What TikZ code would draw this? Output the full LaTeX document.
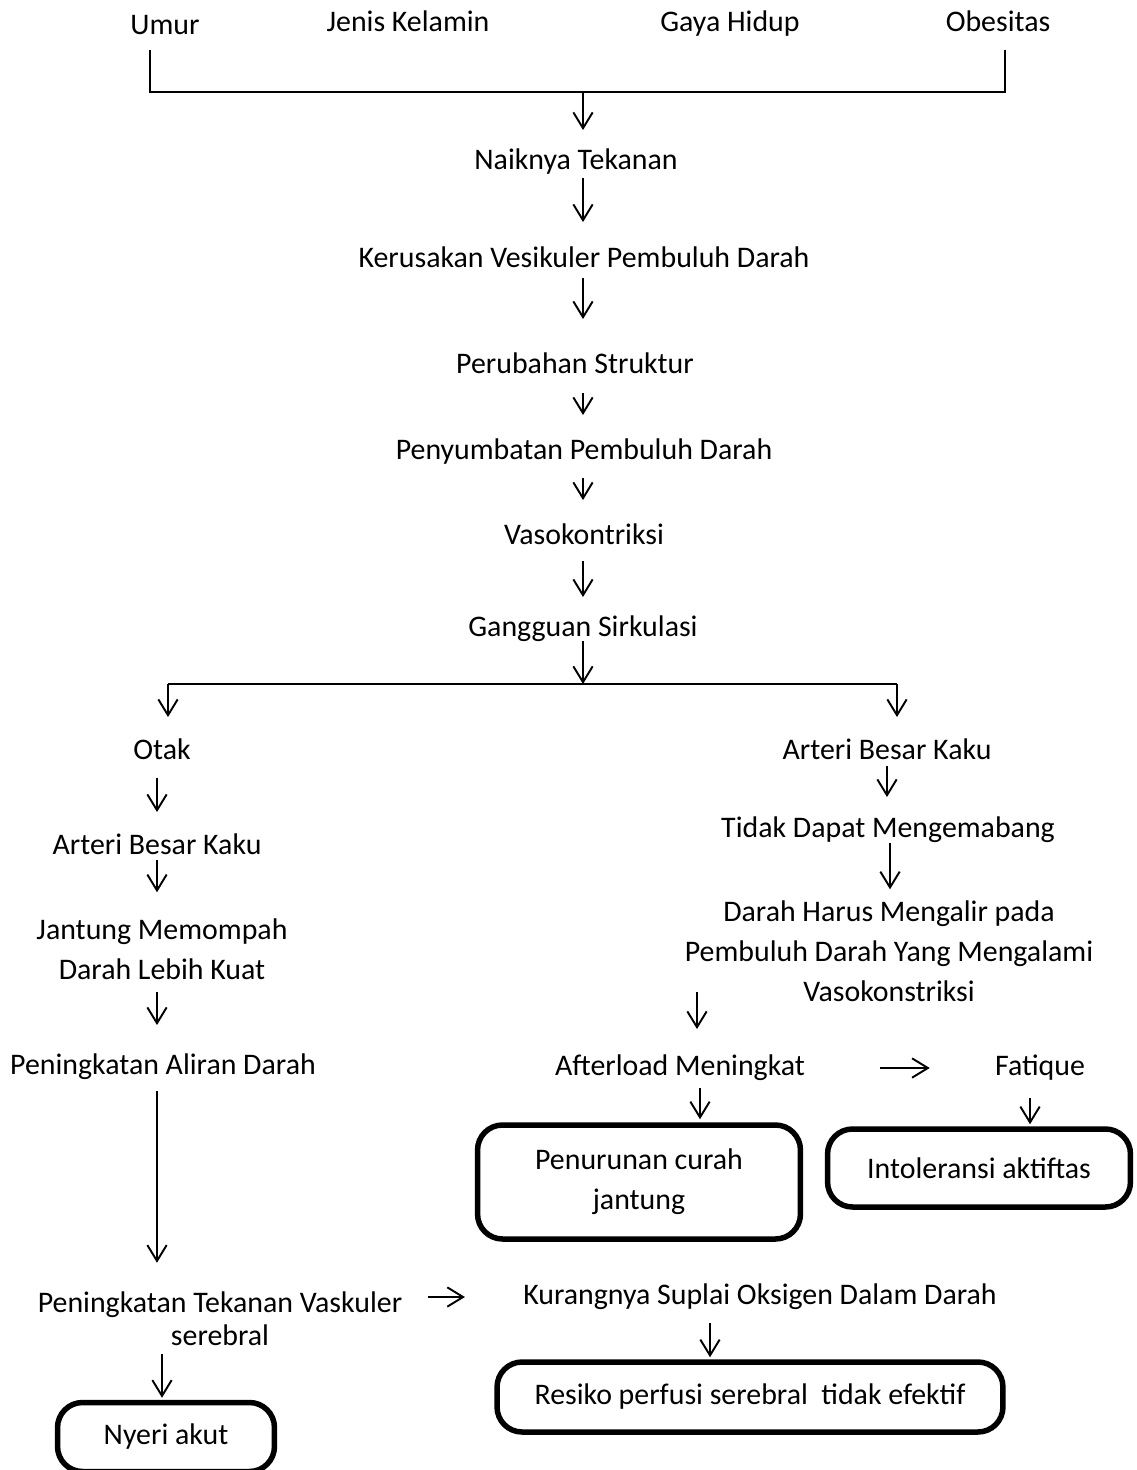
\documentclass[tikz,border=0pt]{standalone}
\usepackage{fontspec}
\setmainfont{Carlito}
\usepackage{tikz}
\usetikzlibrary{arrows.meta}

\begin{document}
\begin{tikzpicture}[x=0.02cm,y=-0.02cm,
  lbl/.style={inner sep=0pt,align=center,font=\fontsize{17pt}{22.7pt}\selectfont},
  one/.style={lbl,text height=12pt,text depth=3.5pt},
  res/.style={lbl,draw,line width=1.1mm,rounded corners=5mm},
  ln/.style={line width=1.1pt},
  arr/.style={ln,-{Straight Barb[length=9pt,width=11pt]}}]
\useasboundingbox (0,0) rectangle (1136,1470);

\node[one] (umur) at (165,27) {Umur};
\node[one] (jenis) at (408,24) {Jenis Kelamin};
\node[one] (gaya) at (730,24) {Gaya Hidup};
\node[one] (obes) at (998,24) {Obesitas};
\node[one] (naik) at (576,162) {Naiknya Tekanan};
\node[one] (kerus) at (584,260) {Kerusakan Vesikuler Pembuluh Darah};
\node[one] (ubah) at (575,366) {Perubahan Struktur};
\node[one] (sumbat) at (584,452) {Penyumbatan Pembuluh Darah};
\node[one] (vaso) at (584,537) {Vasokontriksi};
\node[one] (gang) at (583,629) {Gangguan Sirkulasi};

\node[one] (otak) at (162,752) {Otak};
\node[one] (arteriL) at (157,847) {Arteri Besar Kaku};
\node[lbl] (jantung) at (162,949) {Jantung Memompah\\Darah Lebih Kuat};
\node[one] (aliran) at (163,1067) {Peningkatan Aliran Darah};
\node[lbl,font=\fontsize{17pt}{18.7pt}\selectfont] (tekanan) at (220,1319) {Peningkatan Tekanan Vaskuler\\serebral};
\node[res,minimum width=43.4mm,minimum height=13.8mm] (nyeri) at (166,1437) {Nyeri akut};

\node[one] (arteriR) at (887,752) {Arteri Besar Kaku};
\node[one] (tidak) at (888,830) {Tidak Dapat Mengemabang};
\node[lbl] (darah) at (889,951) {Darah Harus Mengalir pada\\Pembuluh Darah Yang Mengalami\\Vasokonstriksi};
\node[one] (after) at (680,1068) {Afterload Meningkat};
\node[one] (fatique) at (1040,1068) {Fatique};
\node[res,minimum width=64.6mm,minimum height=22.8mm] (turun) at (639,1182) {Penurunan curah\\jantung};
\node[res,minimum width=60.6mm,minimum height=15.6mm] (intol) at (979,1168) {Intoleransi aktiftas};
\node[one] (kurang) at (760,1297) {Kurangnya Suplai Oksigen Dalam Darah};
\node[res,minimum width=101.2mm,minimum height=14mm] (resiko) at (750,1397) {Resiko perfusi serebral\ \ tidak efektif};

\coordinate (bl) at (150,92);
\coordinate (br) at (1005,92);
\coordinate (join) at (583,92);
\coordinate (fork) at (583,684);
\coordinate (forkL) at (168,684);
\coordinate (forkR) at (897,684);
\coordinate (cM) at (583,0);
\coordinate (cL) at (157,0);
\coordinate (cN) at (162,0);
\coordinate (cR) at (887,0);
\coordinate (cD) at (890,0);
\coordinate (cA) at (697,0);
\coordinate (cP) at (700,0);
\coordinate (cF) at (1030,0);
\coordinate (cK) at (710,0);

\draw[ln,shorten <=1.8mm,shorten >=2.4mm] (umur.south -| bl) -- (bl) -- (br) -- (obes.south -| br);
\draw[arr,shorten >=3.6mm] (join) -- (naik.north -| cM);
\draw[arr,shorten <=0.4mm,shorten >=4.8mm] (naik.south -| cM) -- (kerus.north -| cM);
\draw[arr,shorten <=0.8mm,shorten >=6.6mm] (kerus.south -| cM) -- (ubah.north -| cM);
\draw[arr,shorten <=2.6mm,shorten >=4.6mm] (ubah.south -| cM) -- (sumbat.north -| cM);
\draw[arr,shorten <=2.4mm,shorten >=4.6mm] (sumbat.south -| cM) -- (vaso.north -| cM);
\draw[arr,shorten <=2mm,shorten >=3.6mm] (vaso.south -| cM) -- (gang.north -| cM);
\draw[arr,shorten <=-0.4mm] (gang.south -| cM) -- (fork);
\draw[ln] (forkL) -- (forkR);
\draw[arr,shorten >=4.2mm] (forkL) -- (otak.north -| forkL);
\draw[arr,shorten >=4.2mm] (forkR) -- (arteriR.north -| forkR);

\draw[arr,shorten <=2.4mm,shorten >=4.2mm] (otak.south -| cL) -- (arteriL.north -| cL);
\draw[arr,shorten <=-0.2mm,shorten >=5.2mm] (arteriL.south -| cL) -- (jantung.north -| cL);
\draw[arr,shorten <=2.4mm,shorten >=5.6mm] (jantung.south -| cL) -- (aliran.north -| cL);
\draw[arr,shorten <=2mm,shorten >=5.8mm] (aliran.south -| cL) -- (tekanan.north -| cL);
\draw[arr,shorten <=1.6mm,shorten >=0.4mm] (tekanan.south -| cN) -- (nyeri.north -| cN);
\draw[arr,shorten <=5mm,shorten >=11.6mm] (tekanan.east |- kurang.west) -- (kurang.west);
\draw[arr,shorten <=2.4mm,shorten >=0.4mm] (kurang.south -| cK) -- (resiko.north -| cK);

\draw[arr,shorten <=0mm,shorten >=3.8mm] (arteriR.south -| cR) -- (tidak.north -| cR);
\draw[arr,shorten <=-0.2mm,shorten >=2.2mm] (tidak.south -| cD) -- (darah.north -| cD);
\draw[arr,shorten <=-1.9mm,shorten >=5mm] (darah.south -| cA) -- (after.north -| cA);
\draw[arr,shorten <=1.2mm,shorten >=0.6mm] (after.south -| cP) -- (turun.north -| cP);
\draw[arr,shorten <=15mm,shorten >=13mm] (after.east) -- (fatique.west);
\draw[arr,shorten <=3.2mm,shorten >=0.4mm] (fatique.south -| cF) -- (intol.north -| cF);
\end{tikzpicture}
\end{document}
